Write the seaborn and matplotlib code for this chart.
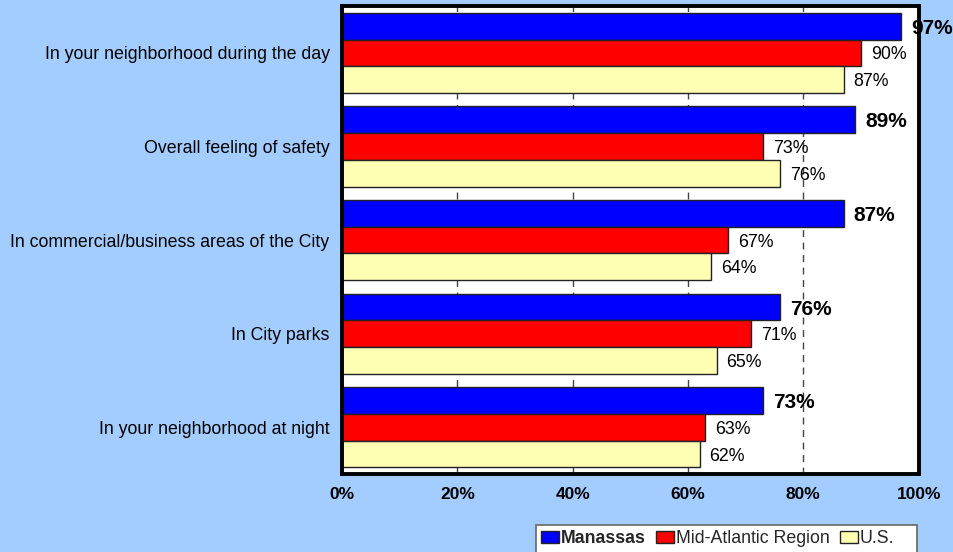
import matplotlib
matplotlib.use("Agg")
import matplotlib.pyplot as plt
import seaborn as sns
import pandas as pd
from matplotlib.patches import Patch, Rectangle

categories = [
    "In your neighborhood during the day",
    "Overall feeling of safety",
    "In commercial/business areas of the City",
    "In City parks",
    "In your neighborhood at night",
]
series = ["Manassas", "Mid-Atlantic Region", "U.S."]
manassas = [97, 89, 87, 76, 73]
mid_atlantic = [90, 73, 67, 71, 63]
us = [87, 76, 64, 65, 62]
x_ticks = [0, 20, 40, 60, 80, 100]
x_tick_labels = ["0%", "20%", "40%", "60%", "80%", "100%"]

colors = ["#0000FF", "#FF0000", "#FFFFB4"]
bg = "#A3CCFF"

rows = []
for name, vals in zip(series, [manassas, mid_atlantic, us]):
    for c, v in zip(categories, vals):
        rows.append({"Category": c, "Series": name, "Value": v})
df = pd.DataFrame(rows)

sns.set_theme(style="white")
plt.rcParams["font.family"] = ["Liberation Sans", "DejaVu Sans"]

fig = plt.figure(figsize=(9.54, 5.52), dpi=100, facecolor=bg)
ax = fig.add_axes([0.3585, 0.141, 0.6045, 0.848])
ax.set_facecolor("white")

sns.barplot(data=df, y="Category", x="Value", hue="Series", order=categories,
            hue_order=series, palette=colors, orient="h", width=0.855,
            edgecolor="#222222", linewidth=1.0, saturation=1, ax=ax, legend=False)

ax.set_xlim(0, 100)
ax.set_xticks(x_ticks)
ax.set_xticklabels(x_tick_labels, fontsize=12.5, fontweight="bold", color="black")
ax.set_xlabel("")
ax.set_ylabel("")
ax.tick_params(axis="y", labelsize=12.8, length=0, pad=9, labelcolor="black")
ax.tick_params(axis="x", length=0, pad=9)
ax.grid(axis="x", color="#444444", linestyle=(0, (5, 4)), linewidth=1.0)
ax.set_axisbelow(True)
for s in ax.spines.values():
    s.set_visible(True)
    s.set_color("black")
    s.set_linewidth(2.8)

for i, cont in enumerate(ax.containers):
    bold = i == 0
    pad = 7
    anns = ax.bar_label(cont, labels=[f"{int(v)}%" for v in cont.datavalues],
                        padding=pad, fontsize=15 if bold else 12.8,
                        fontweight="bold" if bold else "normal", color="black",
                        clip_on=False)
    for a in anns:
        a.xyann = (pad, -1.5)

# legend box (Excel-style, wider than its content)
fig.patches.append(Rectangle((0.5618, -0.02), 0.3994, 0.0689,
                             transform=fig.transFigure, facecolor="white",
                             edgecolor="#666666", linewidth=1.2, zorder=1))
handles = [Patch(facecolor=c, edgecolor="#222222", linewidth=1.0) for c in colors]
leg = fig.legend(handles, series, loc="upper left", bbox_to_anchor=(0.5618, 0.0489),
                 ncol=3, frameon=False, fontsize=12.8, handlelength=1.0,
                 handleheight=0.62, handletextpad=0.1, columnspacing=0.6,
                 borderpad=0.3, borderaxespad=0)
leg.set_zorder(3)
leg.get_texts()[0].set_fontweight("bold")

fig.savefig("out.png", dpi=100, facecolor=bg)
